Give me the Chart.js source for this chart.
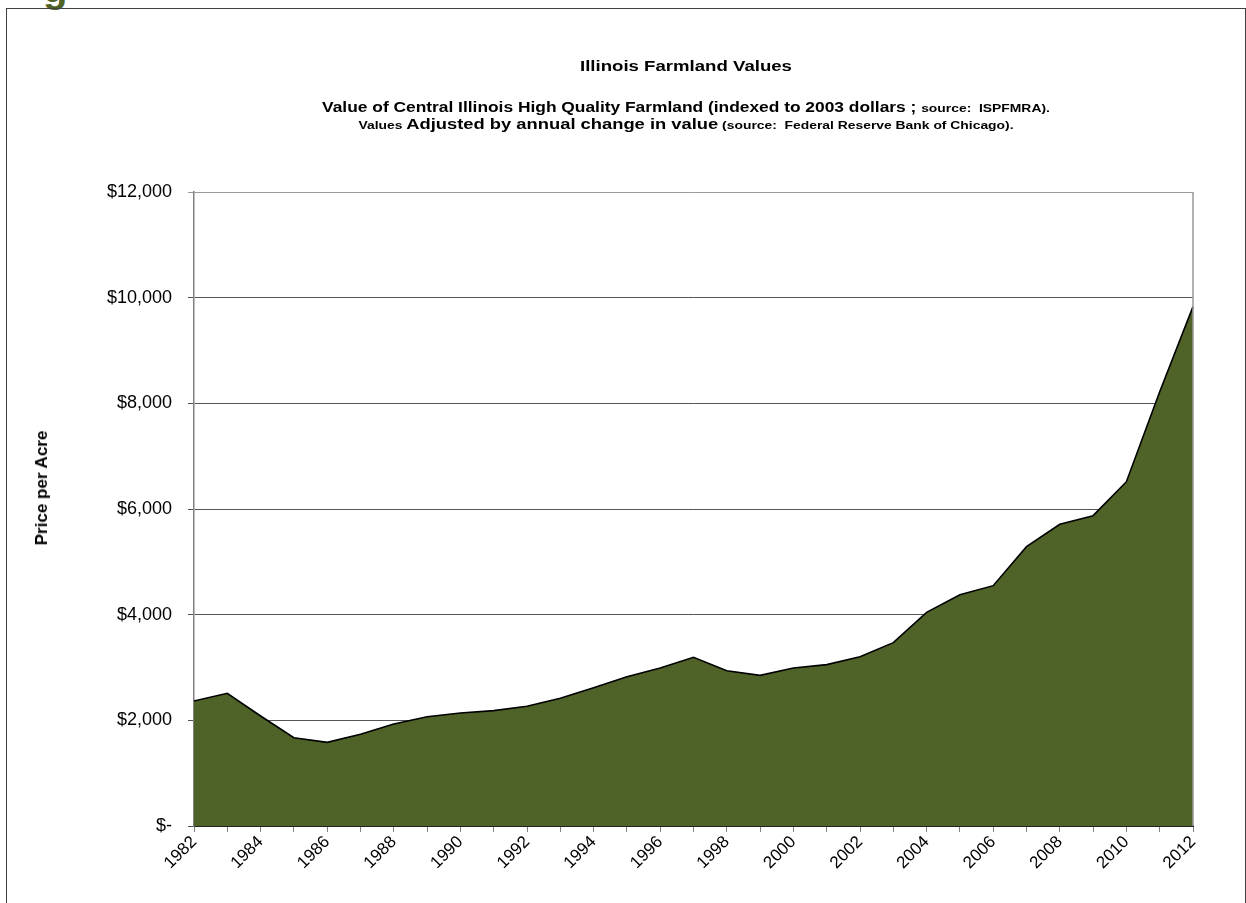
<!DOCTYPE html>
<html>
<head>
<meta charset="utf-8">
<script src="https://cdn.jsdelivr.net/npm/chart.js@4"></script>
<style>
  html, body { margin:0; padding:0; background:#fff; }
  body { width:1246px; height:903px; position:relative; overflow:hidden; font-family:"Liberation Sans", Arial, sans-serif; }
  #frame { position:absolute; left:6px; top:8px; width:1240px; height:920px; border:1.5px solid #404040; box-sizing:border-box; }
  #cut { position:absolute; left:43px; top:-34px; font-size:40px; font-weight:bold; color:#4F6228; }
  #wrap { position:absolute; left:0; top:0; width:1246px; height:903px; }
  .t { position:absolute; left:0; width:1372px; text-align:center; font-weight:bold; color:#000; white-space:nowrap; transform:scaleX(1.24); transform-origin:686px 50%; }
  #t1 { top:57px; font-size:15px; }
  #t2 { top:99px; font-size:14px; }
  #t3 { top:116px; font-size:11.2px; }
  .s { font-size:11.2px; }
  .b { font-size:14.8px; }
  #ytitle { position:absolute; left:42px; top:488px; transform:translate(-50%,-50%) rotate(-90deg); font-size:17px; font-weight:bold; white-space:nowrap; }
</style>
</head>
<body>
<div id="cut">g</div>
<div id="frame"></div>
<div id="wrap"><canvas id="c" width="1246" height="903"></canvas></div>
<div class="t" id="t1">Illinois Farmland Values</div>
<div class="t" id="t2">Value of Central Illinois High Quality Farmland (indexed to 2003 dollars ; <span class="s">source:&nbsp; ISPFMRA).</span></div>
<div class="t" id="t3"><span class="s">Values</span> <span class="b">Adjusted by annual change in value</span> <span class="s">(source:&nbsp; Federal Reserve Bank of Chicago).</span></div>
<div id="ytitle">Price per Acre</div>
<script>
const years = ["1982","1983","1984","1985","1986","1987","1988","1989","1990","1991","1992","1993","1994","1995","1996","1997","1998","1999","2000","2001","2002","2003","2004","2005","2006","2007","2008","2009","2010","2011","2012"];
const pricePerAcre = [2366, 2512, 2082, 1671, 1584, 1735, 1931, 2069, 2139, 2183, 2265, 2417, 2618, 2826, 2991, 3193, 2940, 2852, 2991, 3054, 3205, 3470, 4045, 4378, 4549, 5287, 5710, 5874, 6517, 8221, 9830];
const yTicks = [0, 2000, 4000, 6000, 8000, 10000, 12000];

function fmtDollar(v) {
  if (v === 0) return "$-";
  return "$" + v.toLocaleString("en-US");
}

const ctx = document.getElementById("c");
new Chart(ctx, {
  type: "line",
  data: {
    labels: years,
    datasets: [{
      data: pricePerAcre,
      fill: "origin",
      backgroundColor: "#4F6228",
      borderColor: "#000000",
      borderWidth: 1.6,
      pointRadius: 0,
      tension: 0
    }]
  },
  options: {
    responsive: false,
    animation: false,
    devicePixelRatio: 1,
    layout: { padding: { left: 50, top: 192, right: 53, bottom: 0 } },
    plugins: { legend: { display: false }, tooltip: { enabled: false }, title: { display: false } },
    scales: {
      x: {
        offset: false,
        afterFit: s => { s.height = 77; },
        grid: { display: true, drawOnChartArea: false, tickLength: 6, color: "#808080" },
        border: { display: true, color: "#222222", width: 2 },
        ticks: {
          autoSkip: false,
          maxRotation: 45, minRotation: 45,
          color: "#000",
          font: { family: "'Liberation Sans', Arial, sans-serif", size: 17 },
          padding: 0,
          callback: function(val, idx) { const y = parseInt(years[idx]); return (y % 2 === 0) ? years[idx] : ""; }
        }
      },
      y: {
        min: 0, max: 12000,
        afterFit: s => { s.width = 144; },
        afterBuildTicks: s => { s.ticks = yTicks.map(v => ({ value: v })); },
        grid: { color: ctx => (ctx.tick && ctx.tick.value === 12000) ? "#999999" : "#555555", lineWidth: 1, tickLength: 6 },
        border: { display: true, color: "#808080", width: 1.5 },
        ticks: {
          color: "#000",
          font: { family: "'Liberation Sans', Arial, sans-serif", size: 18 },
          padding: 16,
          callback: v => fmtDollar(v)
        }
      }
    }
  },
  plugins: [{
    id: "rightBorder",
    afterDraw(chart) {
      const a = chart.chartArea, c = chart.ctx;
      c.save();
      c.strokeStyle = "#999999"; c.lineWidth = 1.5;
      c.beginPath(); c.moveTo(a.right, a.top); c.lineTo(a.right, a.bottom); c.stroke();
      c.restore();
    }
  }]
});
</script>
</body>
</html>
